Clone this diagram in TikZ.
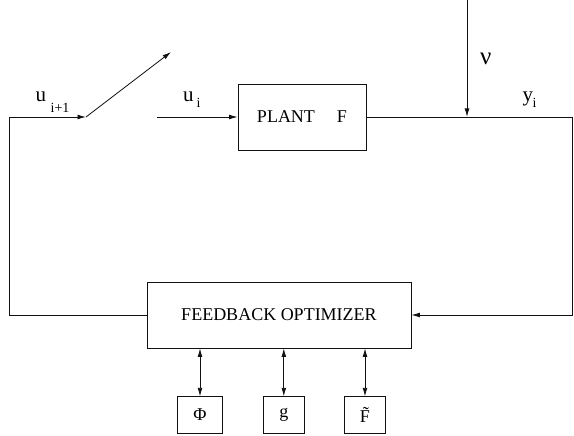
\documentclass[tikz,border=0pt]{standalone}
\usepackage{fontspec}
\setmainfont{Liberation Serif}
\usetikzlibrary{arrows.meta,positioning}
\definecolor{LineBlack}{HTML}{111111}
\tikzset{
  blockbox/.style={draw=LineBlack, line width=0.8pt, inner sep=0pt, align=center, font=\fontsize{18}{20}\selectfont},
  smallbox/.style={blockbox, minimum width=41pt, minimum height=36.5pt},
  arr/.style={-{Latex[length=8.5pt,width=4.8pt]}, line width=0.8pt, draw=LineBlack},
  dblarr/.style={{Latex[length=8.5pt,width=4.8pt]}-{Latex[length=8.5pt,width=4.8pt]}, line width=0.8pt, draw=LineBlack},
  lbl/.style={inner sep=0pt, font=\fontsize{21}{23}\selectfont},
  sublbl/.style={inner sep=0pt, font=\fontsize{14}{16}\selectfont}
}

\begin{document}
\begin{tikzpicture}[x=1pt,y=-1pt]
\useasboundingbox (0,0) rectangle (574,436);
% blocks
\node[blockbox,minimum width=128pt,minimum height=66pt] (plant) at (302,117) {PLANT\hspace{22pt}F};
\node[blockbox,minimum width=264pt,minimum height=66pt] (fbopt) at (279,315) {FEEDBACK OPTIMIZER};
\node[smallbox,minimum width=45pt] (phi) at (200,415) {Φ};
\node[smallbox] (gfun) at (283.8,415) {g};
\node[smallbox] (ftil) at (365,415) {\~{F}};
% switch and loop corners
\coordinate (swin) at (86,117);
\coordinate (swtip) at (171,52);
\coordinate (swout) at (157,117);
\coordinate (lcorner) at (9,117);
\coordinate (rcorner) at (572,117);
\coordinate (nutop) at (467,0);
% connectors
\draw[arr] (fbopt.west) -| (lcorner) -- (swin);
\draw[arr] (swin) -- (swtip);
\draw[arr] (swout) -- (plant.west);
\draw[arr] (plant.east) -- (rcorner) |- (fbopt.east);
\draw[arr] (nutop) -- (nutop |- plant.east);
\draw[dblarr] (phi.north |- fbopt.south) -- (phi.north);
\draw[dblarr] (gfun.north |- fbopt.south) -- (gfun.north);
\draw[dblarr] (ftil.north |- fbopt.south) -- (ftil.north);
% labels
\node[lbl,anchor=base west] (unext) at (35.5,102) {u};
\node[sublbl,anchor=base west] (unextsub) at (50.5,113) {i+1};
\node[lbl,anchor=base west] (ucur) at (183,102) {u};
\node[sublbl,anchor=base west] (ucursub) at (196.5,108) {i};
\node[lbl,anchor=base west,font=\fontsize{25}{27}\selectfont] (nu) at (480,65) {ν};
\node[lbl,anchor=base west] (yout) at (522.5,102) {y};
\node[sublbl,anchor=base west] (youtsub) at (532.5,107.5) {i};
\end{tikzpicture}
\end{document}
